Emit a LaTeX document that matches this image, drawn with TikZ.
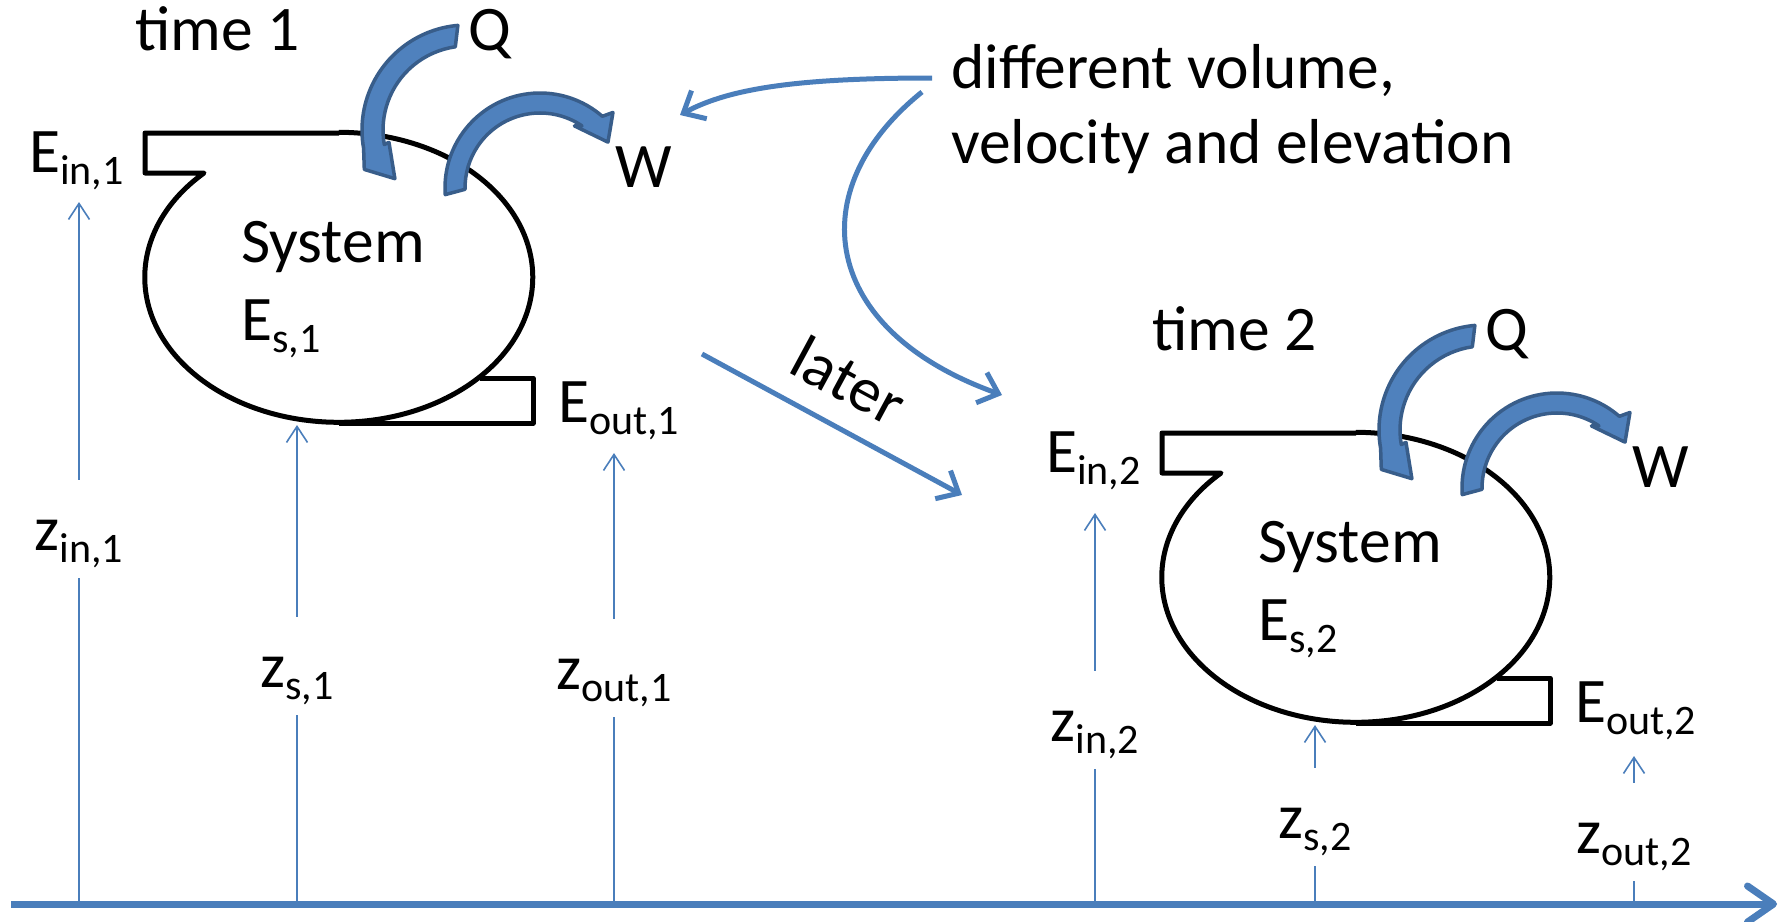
\documentclass[tikz,border=0pt]{standalone}
\usepackage{fontspec}
\setmainfont{Carlito}
\usetikzlibrary{arrows.meta}
\definecolor{bfill}{HTML}{4F81BD}
\definecolor{bedge}{HTML}{385D8A}
\definecolor{bline}{HTML}{4A7EBB}
\newcommand\sbs[1]{\raisebox{-12.5pt}{\fontsize{42}{42}\selectfont #1}}
\tikzset{
 lab/.style={font=\fontsize{63.5}{75}\selectfont, inner sep=0pt, anchor=base west},
 zlab/.style={font=\fontsize{63.5}{75}\selectfont, inner sep=0pt, text height=70pt, text depth=28pt, anchor=base},
 outline/.style={draw=black, line width=5pt, line join=round},
 block/.style={fill=bfill, draw=bedge, line width=3.5pt, line join=round},
 zline/.style={draw=bline, line width=1.6pt},
 zarrow/.style={zline, -{Straight Barb[length=16pt,width=21pt]}},
 callout/.style={draw=bline, line width=5pt, -{Straight Barb[length=18pt,width=32pt]}},
 axisline/.style={draw=bline, line width=7pt, -{Straight Barb[length=26pt,width=36pt,round]}}
}
\begin{document}
\begin{tikzpicture}[x=1pt,y=1pt]
\useasboundingbox[fill=white] (0,0) rectangle (1785,-921);
\foreach \i/\dx/\dy in {1/0/0,2/1017/-300}{
\begin{scope}[shift={(\dx,\dy)}]
 \draw[outline] (339,-133) -- (145,-133) -- (145,-173) -- (204,-173)
   arc[start angle=134, end angle=450, x radius=194, y radius=145];
 \draw[outline] (480,-378) -- (533,-378) -- (533,-423) -- (339,-423);
 \begin{scope}[shift={(467,-130)}]
  \filldraw[block] (95:105) arc[start angle=95,end angle=190,radius=105]
    -- (201:110) -- (214:87) -- (189:79) -- (190:84)
    arc[start angle=190,end angle=98,radius=84] -- cycle;
 \end{scope}
 \begin{scope}[shift={(540,-188)}]
  \filldraw[block] (184:95) arc[start angle=184,end angle=49,radius=95]
    -- (46:105) -- (34:82) -- (61:71) -- (56:75)
    arc[start angle=56,end angle=181,radius=75] -- cycle;
 \end{scope}
 \node[lab] (time\i) at (135,-50) {time \i};
 \node[lab] (Q\i) at (468,-50) {Q};
 \node[lab] (W\i) at (615,-187) {W};
 \node[lab] (Ein\i) at (29,-172) {E\sbs{in,\i}};
 \node[lab] (sys\i) at (241,-262) {System};
 \node[lab] (Es\i) at (241,-340) {E\sbs{s,\i}};
 \node[lab] (Eout\i) at (558,-422) {E\sbs{out,\i}};
\end{scope}}

% axis
\coordinate (axL) at (11,-904);
\coordinate (axR) at (1777,-904);

% elevation labels and arrows
\node[zlab] (zin1) at (79,-550) {z\sbs{in,1}};
\node[zlab] (zs1) at (297,-687) {z\sbs{s,1}};
\node[zlab] (zout1) at (614,-689) {z\sbs{out,1}};
\node[zlab] (zin2) at (1095,-741) {z\sbs{in,2}};
\node[zlab] (zs2) at (1315,-838) {z\sbs{s,2}};
\node[zlab] (zout2) at (1634,-853) {z\sbs{out,2}};
\coordinate (tin1) at (79,-202);
\coordinate (ts1) at (297,-425);
\coordinate (tout1) at (614,-453);
\coordinate (tin2) at (1095,-513);
\coordinate (ts2) at (1315,-725);
\coordinate (tout2) at (1634,-756);
\foreach \n in {in1,s1,out1,in2,s2,out2}{
  \draw[zline] (z\n.south) -- (z\n.south |- axL);
  \draw[zarrow] (z\n.north) -- (t\n);
}
\draw[axisline] (axL) -- (axR);

% annotation
\node[lab] (diff1) at (951,-88) {different volume,};
\node[lab] (diff2) at (951,-163) {velocity and elevation};
\coordinate (d1) at (932,-78);
\coordinate (d1e) at (680,-115);
\coordinate (d2) at (922,-92);
\coordinate (d2e) at (1002,-395);
\draw[callout] (d1) .. controls (800,-78) and (730,-88) .. (d1e);
\draw[callout] (d2) .. controls (800,-190) and (820,-330) .. (d2e);

% later
\coordinate (la) at (702,-354);
\coordinate (lb) at (962,-495);
\draw[callout] (la) -- (lb);
\node[lab, rotate=-28.4] (later) at (786,-371) {later};
\end{tikzpicture}
\end{document}
